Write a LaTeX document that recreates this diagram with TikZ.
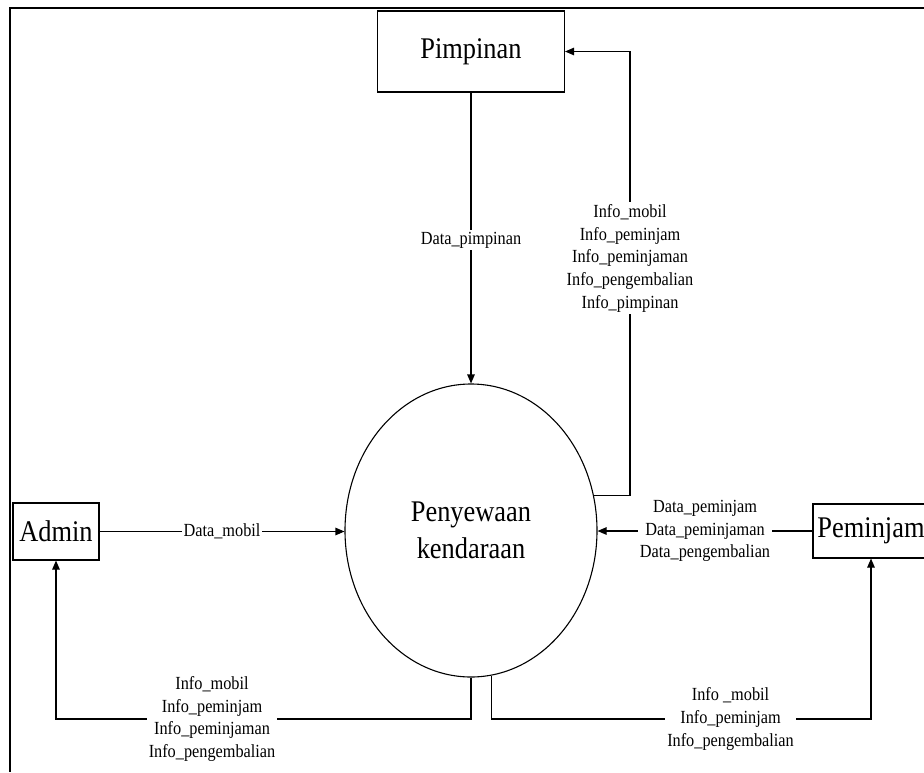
\documentclass[tikz,border=0pt]{standalone}
\usepackage{fontspec}
\setmainfont{Liberation Serif}[FakeStretch=0.88]
\usetikzlibrary{arrows.meta,shapes.geometric}
\begin{document}
\begin{tikzpicture}[x=1pt,y=-1pt,
  ent/.style={draw, line width=1.1pt, inner sep=0pt, font=\fontsize{30}{37}\selectfont},
  proc/.style={draw, ellipse, line width=1.1pt, inner sep=0pt, align=center, font=\fontsize{30}{37}\selectfont},
  flow/.style={draw, line width=1.1pt, -{Triangle[length=9pt,width=7.5pt]}},
  lbl/.style={fill=white, inner sep=2pt, align=center, font=\fontsize{18.5}{22.7}\selectfont}]
\useasboundingbox (0,0) rectangle (924,772);
\clip (0,0) rectangle (924,772);
% frame
\draw[line width=2.4pt] (924,8) -- (10,8) -- (10,772);
% nodes
\node[ent, minimum width=187pt, minimum height=81pt] (pim) at (471,51.5) {Pimpinan};
\node[ent, minimum width=86pt, minimum height=57pt] (adm) at (56,531.5) {Admin};
\node[ent, minimum width=116pt, minimum height=54pt] (pem) at (871,531) {Peminjam};
\node[proc, minimum width=252pt, minimum height=293pt] (prc) at (471,530.5) {Penyewaan\\kendaraan};
\coordinate (rt) at (630,51.5);
\coordinate (bl) at (56,719);
\coordinate (br) at (871,719);
% connectors
\draw[flow] (pim.south) -- (prc.north) node[lbl, pos=0.507] {Data\_pimpinan};
\draw[flow] (prc.16.7) -| (rt) node[lbl, pos=0.767] {Info\_mobil\\Info\_peminjam\\Info\_peminjaman\\Info\_pengembalian\\Info\_pimpinan} -- (pim.east);
\draw[flow] (adm.east) -- (adm.east -| prc.west) node[lbl, midway] {Data\_mobil};
\draw[flow] (pem.west) -- (pem.west -| prc.east) node[lbl, midway] {Data\_peminjam\\Data\_peminjaman\\Data\_pengembalian};
\draw[flow] (prc.south) |- (bl) node[lbl, pos=0.812] {Info\_mobil\\Info\_peminjam\\Info\_peminjaman\\Info\_pengembalian} -- (adm.south);
\draw[flow] (prc.-82.5) |- (br) node[lbl, pos=0.815] {Info \_mobil\\Info\_peminjam\\Info\_pengembalian} -- (pem.south);
\end{tikzpicture}
\end{document}
